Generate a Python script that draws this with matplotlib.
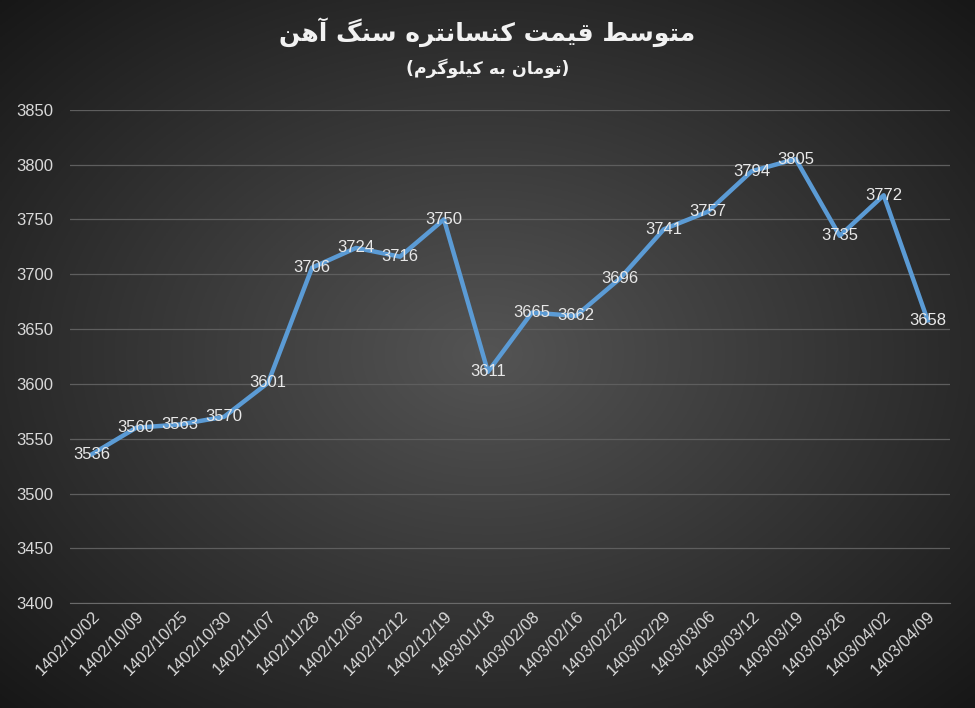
import numpy as np
import matplotlib
matplotlib.use("Agg")
import matplotlib.pyplot as plt

dates = ["1402/10/02","1402/10/09","1402/10/25","1402/10/30","1402/11/07","1402/11/28","1402/12/05",
         "1402/12/12","1402/12/19","1403/01/18","1403/02/08","1403/02/16","1403/02/22","1403/02/29",
         "1403/03/06","1403/03/12","1403/03/19","1403/03/26","1403/04/02","1403/04/09"]
prices = [3536,3560,3563,3570,3601,3706,3724,3716,3750,3611,3665,3662,3696,3741,3757,3794,3805,3735,3772,3658]
title = "متوسط قیمت کنسانتره سنگ آهن"
subtitle = "(تومان به کیلوگرم)"

FORMS = {  # iso, fin, ini, med
 'ا':(0xFE8D,0xFE8E,None,None),'آ':(0xFE81,0xFE82,None,None),'ر':(0xFEAD,0xFEAE,None,None),
 'و':(0xFEED,0xFEEE,None,None),
 'ب':(0xFE8F,0xFE90,0xFE91,0xFE92),'ت':(0xFE95,0xFE96,0xFE97,0xFE98),'س':(0xFEB1,0xFEB2,0xFEB3,0xFEB4),
 'ط':(0xFEC1,0xFEC2,0xFEC3,0xFEC4),'ق':(0xFED5,0xFED6,0xFED7,0xFED8),'ل':(0xFEDD,0xFEDE,0xFEDF,0xFEE0),
 'م':(0xFEE1,0xFEE2,0xFEE3,0xFEE4),'ن':(0xFEE5,0xFEE6,0xFEE7,0xFEE8),'ه':(0xFEE9,0xFEEA,0xFEEB,0xFEEC),
 'ی':(0xFBFC,0xFBFD,0xFBFE,0xFBFF),'ک':(0xFB8E,0xFB8F,0xFB90,0xFB91),'گ':(0xFB92,0xFB93,0xFB94,0xFB95),
}
def shape(s):
    out = []
    for i, c in enumerate(s):
        if c not in FORMS:
            out.append(c); continue
        f = FORMS[c]
        prev = s[i-1] if i > 0 else None
        nxt = s[i+1] if i+1 < len(s) else None
        jp = prev in FORMS and FORMS[prev][2] is not None
        jn = nxt in FORMS and f[2] is not None
        if jp and jn: g = f[3]
        elif jp: g = f[1]
        elif jn: g = f[2]
        else: g = f[0]
        out.append(chr(g))
    r = "".join(out)[::-1]
    return r.translate(str.maketrans("()", ")("))

plt.rcParams['font.family'] = ['Liberation Sans', 'DejaVu Sans']
fig = plt.figure(figsize=(9.75, 7.08), dpi=100)
bg = fig.add_axes([0, 0, 1, 1], zorder=-10)
yy, xx = np.mgrid[-1:1:300j, -1:1:400j]
r = np.sqrt(xx**2 + yy**2) / np.sqrt(2)
val = 0.33 - 0.24 * r
bg.imshow(np.dstack([val, val, val]), aspect="auto", extent=[0, 1, 0, 1])
bg.axis("off")

ax = fig.add_axes([0.072, 0.148, 0.902, 0.697])
ax.patch.set_alpha(0)
x = np.arange(len(prices))
ax.plot(x, prices, color="#5b9bd5", lw=3.2, solid_joinstyle="round", zorder=3)
for xi, p in zip(x, prices):
    ax.text(xi, p, str(p), color="#e8e8e8", fontsize=12, ha="center", va="center", zorder=4)
ax.set_xlim(-0.5, len(prices) - 0.5)
ax.set_ylim(3400, 3850)
ax.set_yticks(range(3400, 3851, 50))
ax.yaxis.grid(True, color="#5e5e5e", lw=0.9)
ax.set_axisbelow(True)
for s in ax.spines.values():
    s.set_visible(False)
ax.spines["bottom"].set_visible(True)
ax.spines["bottom"].set_color("#6a6a6a")
ax.set_xticks(x)
ax.set_xticklabels(dates, rotation=45, ha="right", rotation_mode="anchor")
ax.tick_params(axis="both", length=0, colors="#d9d9d9", labelsize=12)
ax.tick_params(axis="y", pad=12)

fig.text(0.5, 0.955, shape(title), color="#f2f2f2", fontsize=18, fontweight="bold",
         ha="center", va="center", family="DejaVu Sans")
fig.text(0.5, 0.903, shape(subtitle), color="#f2f2f2", fontsize=12.5, fontweight="bold",
         ha="center", va="center", family="DejaVu Sans")
fig.savefig("out.png", dpi=100)
